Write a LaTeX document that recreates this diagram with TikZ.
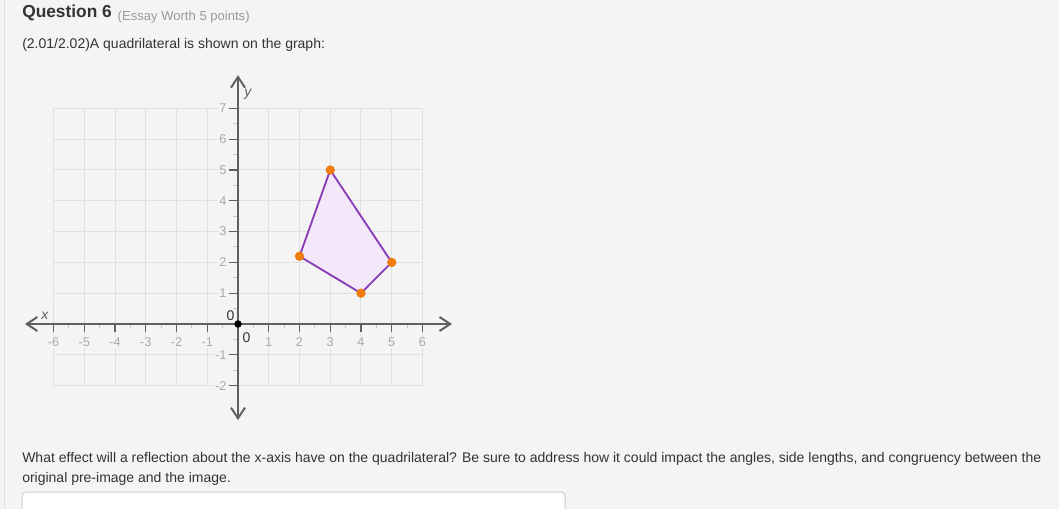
\documentclass[tikz,border=0pt]{standalone}
\usepackage{fontspec}
\setmainfont{Liberation Sans}
\usetikzlibrary{arrows.meta}
\definecolor{pagebg}{HTML}{F4F4F4}
\definecolor{txtdark}{HTML}{333333}
\definecolor{txtgray}{HTML}{9A9A9A}
\definecolor{gridgray}{HTML}{E0E0E0}
\definecolor{axisgray}{HTML}{606060}
\definecolor{ticklbl}{HTML}{A8A8A8}
\definecolor{minortick}{HTML}{C8C8C8}
\definecolor{quadline}{HTML}{8B3DB5}
\definecolor{quadfill}{HTML}{F2E8FA}
\definecolor{dotorange}{HTML}{EE7D0E}
\definecolor{boxline}{HTML}{CCCCCC}
\tikzset{
	bodytext/.style={anchor=base west, inner sep=0pt, text=txtdark, font=\fontsize{10.5}{12}\selectfont},
	axisline/.style={draw=axisgray, line width=1.5pt, arrows={Straight Barb[length=8pt,width=10.5pt]-Straight Barb[length=8pt,width=10.5pt]}},
	gridline/.style={draw=gridgray, line width=0.75pt},
	ticklabel/.style={text=ticklbl, fill=pagebg, inner sep=0.8pt, font=\fontsize{9.5}{11}\selectfont},
	originlabel/.style={text=txtdark, inner sep=0pt, font=\fontsize{10.5}{12}\selectfont},
	vertexdot/.style={fill=dotorange, circle, inner sep=0pt, minimum size=7pt}
}
\begin{document}
\begin{tikzpicture}[x=0.75pt, y=-0.75pt]
% page
\fill [pagebg] (0,0) rectangle (1059,509);
\useasboundingbox (0,0) rectangle (1059,509);
\draw [gridgray, line width=0.75pt] (4.5,0) -- (4.5,509);
% heading
\node [bodytext, text=txtdark, font=\fontsize{13}{15}\selectfont\bfseries] (qtitle) at (22,17.5) {Question 6};
\node [bodytext, text=txtgray, font=\fontsize{9.8}{12}\selectfont, right=4pt] (qworth) at (qtitle.base east) {(Essay Worth 5 points)};
\node [bodytext] (qprompt) at (22,48.5) {(2.01/2.02)A quadrilateral is shown on the graph:};
% graph
\begin{scope}[shift={(238,324)}, x=23.06pt, y=23.1pt]
\draw [gridline, step={(1,1)}] (-6,-2) grid (6,7);
\foreach \i in {-5.5,-4.5,...,5.5}
	\draw [minortick, line width=0.75pt] (\i,0) -- (\i,-0.13);
\foreach \j in {-1.5,-0.5,...,6.5}
	\draw [minortick, line width=0.75pt] (0,\j) -- (-0.15,\j);
\foreach \i in {-6,...,-1,1,2,...,6} {
	\draw [axisgray, line width=1pt] (\i,0) -- (\i,-0.27);
	\node [ticklabel] (xl\i) at (\i,-0.6) {\i};
}
\foreach \j in {-2,-1,1,2,...,7} {
	\draw [axisgray, line width=1pt] (0,\j) -- (-0.29,\j);
	\node [ticklabel, anchor=east] (yl\j) at (-0.33,\j) {\j};
}
\draw [axisline] (-6.93,0) -- (6.96,0);
\draw [axisline] (0,-3.12) -- (0,8.08);
\node [originlabel, font=\fontsize{10.5}{12}\selectfont\itshape, text=axisgray] (xname) at (-6.28,0.25) {x};
\node [originlabel, font=\fontsize{10.5}{12}\selectfont\itshape, text=axisgray] (yname) at (0.32,7.46) {y};
\node [originlabel] (zeroy) at (-0.24,0.26) {0};
\node [originlabel] (zerox) at (0.28,-0.44) {0};
\fill [black] (0,0) circle (2.8pt);
% quadrilateral
\coordinate (A) at (2,2.2);
\coordinate (B) at (3,5);
\coordinate (C) at (5,2);
\coordinate (D) at (4,1);
\draw [quadline, fill=quadfill, line width=1.4pt, line join=round] (A) -- (B) -- (C) -- (D) -- cycle;
\foreach \v in {A,B,C,D}
	\node [vertexdot] (dot\v) at (\v) {};
\end{scope}
% question text
\node [bodytext] (qline1) at (22,462.5) {What effect will a reflection about the x-axis have on the quadrilateral? Be sure to address how it could impact the angles, side lengths, and congruency between the};
\node [bodytext] (qline2) at (22,482) {original pre-image and the image.};
% answer box
\draw [boxline, fill=white, line width=0.75pt, rounded corners=3pt] (22,492) rectangle (565,530);
\end{tikzpicture}
\end{document}
